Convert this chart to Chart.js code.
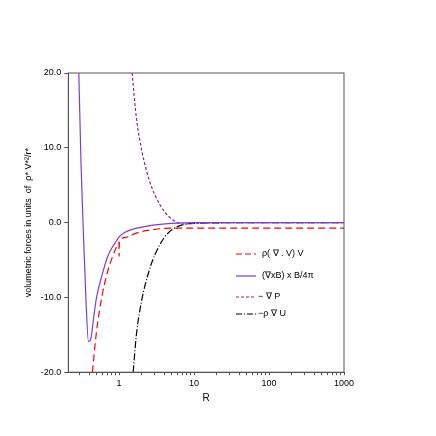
<!DOCTYPE html>
<html><head><meta charset="utf-8">
<script src="https://cdn.jsdelivr.net/npm/chart.js@4"></script>
<style>body{margin:0;background:#fff}#c{width:436px;height:436px}</style>
</head><body><div id="c"><canvas id="myChart" width="436" height="436"></canvas></div>
<script>
// radius samples and forces
const rInertia = [0.44, 0.5, 0.6, 0.7, 0.8, 0.9, 0.995, 1.0, 1.005, 1.2, 1.5, 2, 3, 5, 10, 100, 1000]
const fInertia = [-20, -14.5, -9.5, -6.6, -4.8, -3.5, -2.7, -4.5, -2.6, -2.0, -1.6, -1.2, -0.9, -0.75, -0.75, -0.75, -0.75]
const rLorentz = [0.29, 0.31, 0.33, 0.36, 0.39, 0.42, 0.46, 0.5, 0.6, 0.7, 0.8, 0.9, 1.0, 1.2, 1.5, 2, 3, 5, 10, 100, 1000]
const fLorentz = [20, 8, 0, -10, -15.9, -15.5, -12.5, -10, -6.8, -4.6, -3.4, -2.6, -1.9, -1.3, -0.9, -0.6, -0.3, -0.1, 0, 0, 0]
const rPressure = [1.49, 1.7, 2, 2.5, 3, 4, 5, 6, 7, 10, 100, 1000]
const fPressure = [20, 14, 9.7, 5.8, 3.7, 1.5, 0.5, 0, -0.2, -0.1, 0, 0]
const rGravity = [1.54, 1.7, 2, 2.5, 3, 4, 5, 7, 10, 100, 1000]
const fGravity = [-20, -15, -10.4, -6.5, -4.3, -2.0, -1.0, -0.3, -0.1, 0, 0]
const xTicks = [1, 10, 100, 1000]

const pts = (xs, ys) => xs.map((x, i) => ({ x: x, y: ys[i] }))

const legendItems = [
  { color: 'red', dash: [6, 3], label: 'ρ( ∇ . V) V' },
  { color: '#7b3fd0', dash: [], label: '(∇xB) x B/4π' },
  { color: '#8a2a8a', dash: [3, 2], label: '− ∇ P' },
  { color: 'black', dash: [6, 2, 1, 2], label: '−ρ ∇ U' },
]

const extras = {
  id: 'extras',
  afterDraw(chart) {
    const c = chart.ctx, a = chart.chartArea
    c.save()
    c.strokeStyle = '#555'
    c.lineWidth = 1
    c.strokeRect(a.left, a.top, a.right - a.left, a.bottom - a.top)
    // legend
    const ys = [254, 276, 297, 314]
    c.font = '9px "Liberation Sans"'
    c.textBaseline = 'middle'
    legendItems.forEach((it, i) => {
      c.strokeStyle = it.color
      c.setLineDash(it.dash)
      c.lineWidth = 1.2
      c.beginPath(); c.moveTo(236, ys[i]); c.lineTo(256, ys[i]); c.stroke()
      c.fillStyle = '#000'
      c.fillText(it.label, i < 2 ? 262 : 258, ys[i])
    })
    c.restore()
  }
}

const ds = (label, data, color, dash, w) => ({
  label, data, borderColor: color, borderDash: dash, borderWidth: w,
  showLine: true, pointRadius: 0, cubicInterpolationMode: 'monotone', fill: false
})

new Chart(document.getElementById('myChart').getContext('2d'), {
  type: 'scatter',
  data: {
    datasets: [
      ds('inertia', pts(rInertia, fInertia), 'red', [7, 4], 1.2),
      ds('lorentz', pts(rLorentz, fLorentz), '#7b3fd0', [], 1.2),
      ds('pressure', pts(rPressure, fPressure), '#8a2a8a', [3, 2], 1.2),
      ds('gravity', pts(rGravity, fGravity), 'black', [7, 2, 1, 2], 1.2),
    ],
  },
  options: {
    responsive: false,
    animation: false,
    layout: { padding: { left: 19, right: 92, top: 73, bottom: 32 } },
    plugins: { legend: { display: false }, tooltip: { enabled: false } },
    scales: {
      x: {
        type: 'logarithmic', min: 0.21, max: 1000,
        grid: { display: true, drawOnChartArea: false, drawTicks: true, tickLength: 3, color: '#555' },
        border: { color: '#555' },
        title: { display: true, text: 'R', color: '#000', font: { size: 10, family: 'Liberation Sans' }, padding: 0 },
        afterBuildTicks(ax) {
          const t = []
          for (let d = 0.1; d < 1000; d *= 10)
            for (let k = 1; k < 10; k++) { const v = +(d * k).toPrecision(3); if (v >= 0.21 && v <= 1000) t.push({ value: v }) }
          t.push({ value: 1000 })
          ax.ticks = t
        },
        ticks: {
          color: '#000', font: { size: 9, family: 'Liberation Sans' }, autoSkip: false, maxRotation: 0,
          callback: v => xTicks.includes(v) ? String(v) : '',
        },
      },
      y: {
        min: -20, max: 20,
        grid: { display: true, drawOnChartArea: false, tickLength: 4, color: '#555' },
        border: { color: '#555' },
        title: { display: true, text: 'volumetric forces in units  of  ρ* V*²/r*', color: '#000', font: { size: 9, family: 'Liberation Sans' } },
        ticks: { stepSize: 10, color: '#000', font: { size: 9, family: 'Liberation Sans' }, callback: v => v.toFixed(1) },
      },
    },
  },
  plugins: [extras],
})
</script>
</body></html>
